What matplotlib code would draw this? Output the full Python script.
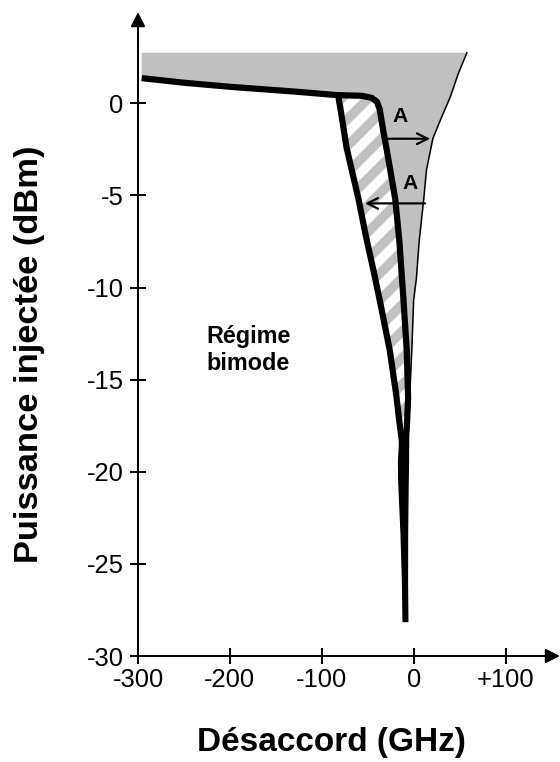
import matplotlib
matplotlib.use("Agg")
import matplotlib.pyplot as plt

# Désaccord (GHz) / Puissance injectée (dBm)
upper_x = [-296, -250, -200, -127, -84, -56.5, -45.5, -40]
upper_y = [1.37, 1.12, 0.90, 0.63, 0.45, 0.41, 0.30, 0.09]

left_x = [-82, -79, -73, -60, -52, -44, -36, -26, -19, -15, -12]
left_y = [0.40, -0.5, -2.4, -5.2, -7.2, -9.0, -10.9, -13.4, -15.8, -17.5, -18.6]

right_x = [-40, -37, -33, -29, -20, -15.5, -11, -7.5, -6, -7.5, -9.5]
right_y = [0.09, -0.3, -1.5, -2.6, -5.2, -7.5, -10.7, -13.4, -16.0, -17.7, -18.6]

edge_x = [58, 48.7, 40, 30, 21, 14, 11, 6, 3, 0, -2, -4, -5, -8]
edge_y = [2.75, 1.63, 0.36, -0.8, -1.9, -3.6, -5.2, -7.5, -9.5, -10.7, -13.4, -15.6, -17.0, -18.3]

spike_y = [-18.0, -19.5, -20.6, -23.3, -26.0, -28.1]
spike_left = [-15.5, -17.0, -16.6, -14.2, -12.6, -12.0]
spike_right = [-6.0, -6.2, -6.6, -7.2, -7.3, -6.9]

top_level = 2.75

xticks = [-300, -200, -100, 0, 100]
xlabels = ["-300", "-200", "-100", "0", "+100"]
yticks = [0, -5, -10, -15, -20, -25, -30]
ylabels = ["0", "-5", "-10", "-15", "-20", "-25", "-30"]

plt.rcParams["font.family"] = ["Liberation Sans", "DejaVu Sans"]
plt.rcParams["hatch.linewidth"] = 4.2
plt.rcParams["hatch.color"] = "white"

fig = plt.figure(figsize=(3.5, 4.7625), dpi=160)
ax = fig.add_axes([138 / 560, 1 - 656 / 762, 422 / 560, 644 / 762])
ax.set_xlim(-300, 159.3)
ax.set_ylim(-30, 4.96)

gray = "#c0c0c0"

# gray zone
gx = [upper_x[0], edge_x[0]] + edge_x + [right_x[-1]] + left_x[::-1] + upper_x[:5][::-1]
gy = [top_level, top_level] + edge_y + [right_y[-1]] + left_y[::-1] + upper_y[:5][::-1]
ax.fill(gx, gy, facecolor=gray, edgecolor="none", zorder=1)

# hatched zone between the two branches
hx = left_x + right_x[::-1] + [-56.5]
hy = left_y + right_y[::-1] + [0.41]
ax.fill(hx, hy, facecolor=gray, edgecolor="white", hatch="//", linewidth=0, zorder=2)

# curves
ax.plot(edge_x, edge_y, color="black", lw=0.7, zorder=3)
ax.plot(upper_x + right_x[1:], upper_y + right_y[1:], color="black", lw=2.8,
        solid_joinstyle="round", solid_capstyle="butt", zorder=4)
ax.plot(left_x, left_y, color="black", lw=2.8, solid_capstyle="round", zorder=4)
ax.fill_betweenx(spike_y, spike_left, spike_right, facecolor="black",
                 edgecolor="black", lw=0.6, zorder=4)

# arrows A
arrow_kw = dict(arrowstyle="->", color="black", lw=1.0, mutation_scale=12,
                shrinkA=0, shrinkB=0)
ax.annotate("", xy=(17.9, -1.92), xytext=(-31, -1.92), arrowprops=arrow_kw, zorder=5)
ax.annotate("", xy=(-53, -5.43), xytext=(12.4, -5.43), arrowprops=arrow_kw, zorder=5)
ax.text(-14.8, -0.73, "A", fontsize=9.5, fontweight="bold", ha="center", va="center", zorder=5)
ax.text(-3.9, -4.33, "A", fontsize=9.5, fontweight="bold", ha="center", va="center", zorder=5)

ax.text(-180, -13.4, "Régime\nbimode", fontsize=10.5, fontweight="bold",
        ha="center", va="center", linespacing=1.25)

# axes with arrows
for s in ax.spines.values():
    s.set_visible(False)
ax_arrow = dict(arrowstyle="-|>", color="black", lw=0.9, mutation_scale=13.5,
                shrinkA=0, shrinkB=0)
ax.annotate("", xy=(1, 0), xytext=(0, 0), xycoords="axes fraction",
            arrowprops=ax_arrow, annotation_clip=False)
ax.annotate("", xy=(0, 1), xytext=(0, 0), xycoords="axes fraction",
            arrowprops=ax_arrow, annotation_clip=False)

ax.set_xticks(xticks)
ax.set_xticklabels(xlabels)
ax.set_yticks(yticks)
ax.set_yticklabels(ylabels)
ax.tick_params(direction="inout", length=7, width=0.9, labelsize=11.5)
ax.tick_params(axis="x", pad=2)
ax.tick_params(axis="y", pad=3)

fig.text(331 / 560, 1 - 743 / 762, "Désaccord (GHz)", fontsize=15,
         fontweight="bold", ha="center", va="center")
fig.text(30 / 560, 1 - 354 / 762, "Puissance injectée (dBm)", fontsize=15.5,
         fontweight="bold", ha="center", va="center", rotation=90)

fig.savefig("out.png", dpi=160)
